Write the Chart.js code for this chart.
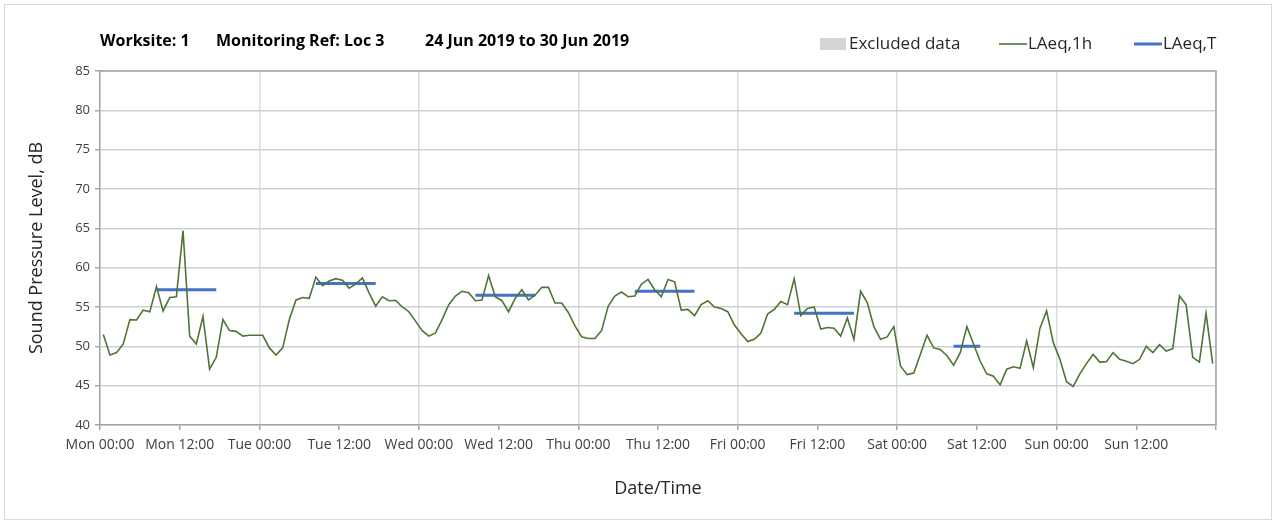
<!DOCTYPE html>
<html>
<head>
<meta charset="utf-8">
<script src="https://cdn.jsdelivr.net/npm/chart.js@4.4.0/dist/chart.umd.min.js"></script>
<style>
  html, body { margin: 0; padding: 0; background: #ffffff; }
  #wrap { position: relative; width: 1276px; height: 524px; }
  #frame { position: absolute; left: 4px; top: 4px; width: 1266px; height: 514px; border: 1px solid #d9d9d9; }
  #c { position: absolute; left: 0; top: 0; }
</style>
</head>
<body>
<div id="wrap">
  <div id="frame"></div>
  <canvas id="c" width="1276" height="524"></canvas>
</div>
<script>
// ---- Data ----
const titleParts = ['Worksite: 1', 'Monitoring Ref: Loc 3', '24 Jun 2019 to 30 Jun 2019'];
const xTickLabels = ['Mon 00:00','Mon 12:00','Tue 00:00','Tue 12:00','Wed 00:00','Wed 12:00','Thu 00:00','Thu 12:00','Fri 00:00','Fri 12:00','Sat 00:00','Sat 12:00','Sun 00:00','Sun 12:00',''];
const yTicks = [40, 45, 50, 55, 60, 65, 70, 75, 80, 85];

// Hourly LAeq,1h values, Mon 00:00 -> Sun 23:00 (168 hours)
const laeq1h = [
  51.5, 48.9, 49.2, 50.3, 53.4, 53.35, 54.6, 54.4, 57.6, 54.5, 56.2, 56.3, 64.7, 51.3, 50.3, 53.8, 47.1, 48.6, 53.4, 52.0, 51.9, 51.3, 51.4, 51.4,
  51.4, 49.8, 48.9, 49.8, 53.4, 55.9, 56.2, 56.1, 58.8, 57.7, 58.3, 58.6, 58.4, 57.4, 57.9, 58.7, 56.8, 55.1, 56.3, 55.8, 55.85, 55.0, 54.4, 53.2,
  52.0, 51.3, 51.7, 53.4, 55.3, 56.4, 57.0, 56.8, 55.8, 55.9, 59.0, 56.3, 55.8, 54.4, 56.1, 57.2, 55.9, 56.5, 57.5, 57.5, 55.5, 55.5, 54.3, 52.6,
  51.2, 51.0, 51.0, 52.0, 55.1, 56.4, 56.9, 56.3, 56.4, 57.9, 58.5, 57.2, 56.3, 58.5, 58.2, 54.6, 54.7, 53.9, 55.3, 55.8, 55.0, 54.8, 54.4, 52.7,
  51.6, 50.6, 50.9, 51.7, 54.1, 54.7, 55.7, 55.3, 58.6, 53.9, 54.8, 55.0, 52.2, 52.4, 52.3, 51.3, 53.6, 50.9, 57.0, 55.55, 52.5, 50.9, 51.2, 52.5,
  47.5, 46.4, 46.6, 49.0, 51.4, 49.8, 49.6, 48.8, 47.6, 49.2, 52.5, 50.3, 48.1, 46.5, 46.2, 45.1, 47.1, 47.4, 47.2, 50.7, 47.3, 52.3, 54.5, 50.5,
  48.35, 45.5, 44.9, 46.5, 47.8, 49.0, 48.0, 48.05, 49.2, 48.35, 48.1, 47.8, 48.35, 50.0, 49.2, 50.2, 49.4, 49.7, 56.4, 55.3, 48.6, 48.0, 54.2, 47.8
];

// LAeq,T periods (hour index from Mon 00:00, end exclusive) and levels
const laeqTStart = [8, 32, 56, 80, 104, 128];
const laeqTEnd   = [18, 42, 66, 90, 114, 133];
const laeqTLevel = [57.2, 58.0, 56.5, 57.0, 54.2, 50.0];

// ---- Build datasets ----
const hourlyPoints = laeq1h.map((v, i) => ({ x: i + 0.5, y: v }));
const periodPoints = [];
laeqTLevel.forEach((lv, k) => {
  periodPoints.push({ x: laeqTStart[k] + 0.5, y: lv });
  periodPoints.push({ x: laeqTEnd[k] - 0.5, y: lv });
  periodPoints.push({ x: laeqTEnd[k], y: null });
});

const FONT = '"Open Sans", "DejaVu Sans", sans-serif';

const decorPlugin = {
  id: 'decor',
  beforeDatasetsDraw(chart) {
    const { ctx, chartArea: a } = chart;
    ctx.save();
    ctx.strokeStyle = '#a6a6a6';
    ctx.lineWidth = 1.5;
    ctx.beginPath();
    ctx.moveTo(a.left, a.top);
    ctx.lineTo(a.right, a.top);
    ctx.lineTo(a.right, a.bottom);
    ctx.stroke();
    ctx.restore();
  },
  afterDraw(chart) {
    const { ctx } = chart;
    ctx.save();
    // Title
    ctx.fillStyle = '#000000';
    ctx.font = 'bold 16px ' + FONT;
    ctx.textBaseline = 'middle';
    ctx.textAlign = 'left';
    const tx = [100, 216, 425];
    titleParts.forEach((t, i) => ctx.fillText(t, tx[i], 41));
    // Legend
    const lx = [820, 999, 1134];
    const ly = 44;
    ctx.font = '17px ' + FONT;
    chart.data.datasets.forEach((ds, i) => {
      const x = lx[i];
      if (ds.legendBox) {
        ctx.fillStyle = ds.backgroundColor;
        ctx.fillRect(x, ly - 6, 26, 12);
      } else {
        ctx.strokeStyle = ds.borderColor;
        ctx.lineWidth = ds.borderWidth;
        ctx.beginPath();
        ctx.moveTo(x, ly);
        ctx.lineTo(x + 28, ly);
        ctx.stroke();
      }
      ctx.fillStyle = '#262626';
      ctx.fillText(ds.label, x + 29, ly);
    });
    ctx.restore();
  }
};

new Chart(document.getElementById('c'), {
  type: 'line',
  data: {
    datasets: [
      { label: 'Excluded data', data: [], legendBox: true, backgroundColor: '#d4d4d4',
        borderColor: '#d4d4d4', borderWidth: 0, pointRadius: 0 },
      { label: 'LAeq,1h', data: hourlyPoints, borderColor: '#4f7536', borderWidth: 1.6,
        pointRadius: 0, tension: 0, fill: false },
      { label: 'LAeq,T', data: periodPoints, borderColor: '#4472c4', borderWidth: 3,
        pointRadius: 0, tension: 0, fill: false, spanGaps: false }
    ]
  },
  options: {
    responsive: false,
    animation: false,
    devicePixelRatio: 1,
    layout: { padding: { top: 71, right: 60, bottom: 0, left: 0 } },
    plugins: { legend: { display: false }, title: { display: false }, tooltip: { enabled: false } },
    scales: {
      x: {
        type: 'linear', min: 0, max: 168, offset: false,
        afterBuildTicks(scale) { scale.ticks = xTickLabels.map((_, i) => ({ value: i * 12 })); },
        afterFit(scale) { scale.height = 99; },
        ticks: {
          autoSkip: false, maxRotation: 0, minRotation: 0, padding: 7,
          color: '#404040', font: { family: FONT, size: 14 },
          callback: (v) => xTickLabels[Math.round(v / 12)]
        },
        grid: {
          offset: false,
          color: (c) => (c.tick && c.tick.value % 24 === 0) ? '#dcdcdc' : 'rgba(0,0,0,0)',
          lineWidth: 1.5,
          tickColor: '#a6a6a6', tickLength: 5, drawTicks: true
        },
        border: { color: '#a6a6a6', width: 1.5 },
        title: { display: true, text: 'Date/Time', color: '#262626',
          font: { family: FONT, size: 18 }, padding: { top: 0, bottom: 24 } }
      },
      y: {
        type: 'linear', min: 40, max: 85,
        afterBuildTicks(scale) { scale.ticks = yTicks.map(v => ({ value: v })); },
        afterFit(scale) { scale.width = 100; },
        ticks: { color: '#404040', font: { family: FONT, size: 13 }, padding: 5 },
        grid: { color: '#cfcfcf', lineWidth: 1.5, tickColor: '#a6a6a6', tickLength: 5 },
        border: { color: '#a6a6a6', width: 1.5 },
        title: { display: true, text: 'Sound Pressure Level, dB', color: '#262626',
          font: { family: FONT, size: 18 }, padding: { top: 26, bottom: 0 } }
      }
    }
  },
  plugins: [decorPlugin]
});
</script>
</body>
</html>
